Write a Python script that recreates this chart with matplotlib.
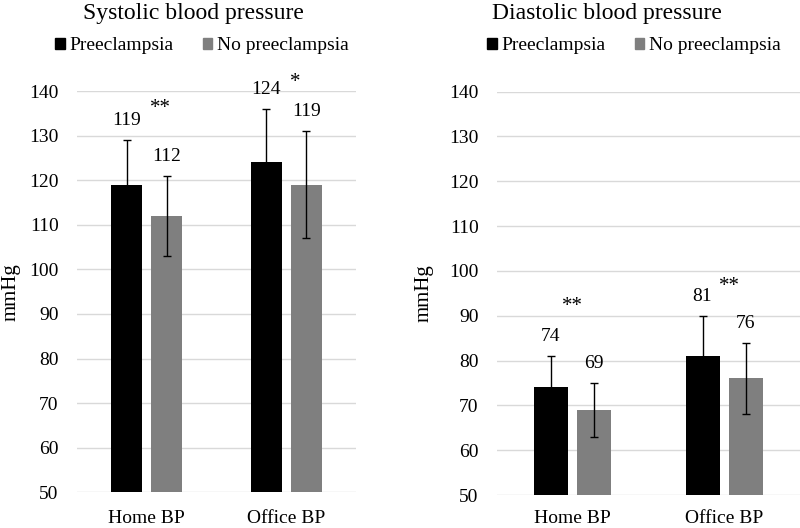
import matplotlib
matplotlib.use("Agg")
import matplotlib.pyplot as plt
from matplotlib.patches import Patch
import numpy as np

plt.rcParams["font.family"] = ["Liberation Serif", "DejaVu Serif"]

categories = ["Home BP", "Office BP"]
groups = ["Preeclampsia", "No preeclampsia"]

sys_pre = [119, 124]
sys_pre_sd = [10, 12]
sys_no = [112, 119]
sys_no_sd = [9, 12]

dia_pre = [74, 81]
dia_pre_sd = [7, 9]
dia_no = [69, 76]
dia_no_sd = [6, 8]

sys_sig = ["**", "*"]
dia_sig = ["**", "**"]

BLACK = "#000000"
GRAY = "#7f7f7f"
GRID = "#d9d9d9"


def draw_panel(ax, pre, pre_sd, no, no_sd, sig, sig_pos, xpad):
    x = np.arange(len(categories))
    w = 0.224
    gap = 0.062
    xp = x - (w + gap) / 2
    xn = x + (w + gap) / 2
    ax.bar(xp, pre, w, color=BLACK, zorder=2)
    ax.bar(xn, no, w, color=GRAY, zorder=2)
    ekw = dict(fmt="none", ecolor="black", elinewidth=1, capsize=2.6, capthick=1, zorder=3)
    ax.errorbar(xp, pre, yerr=pre_sd, **ekw)
    ax.errorbar(xn, no, yerr=no_sd, **ekw)
    for xs, vals, sds in ((xp, pre, pre_sd), (xn, no, no_sd)):
        for xi, v, s in zip(xs, vals, sds):
            ax.annotate(str(v), (xi, v + s), xytext=(0, 14), textcoords="offset points",
                        ha="center", va="center", fontsize=14, annotation_clip=False)
    for (sx, sy), s in zip(sig_pos, sig):
        ax.text(sx, sy, s, ha="center", va="center", fontsize=15, clip_on=False)
    ax.set_ylim(50, 140)
    ax.set_xlim(-0.5, 1.5)
    ax.set_yticks(range(50, 141, 10))
    ax.set_xticks(x)
    ax.set_xticklabels(categories)
    ax.yaxis.grid(True, color=GRID, linewidth=1, zorder=0)
    ax.set_axisbelow(True)
    for sp in ax.spines.values():
        sp.set_visible(False)
    ax.tick_params(axis="both", length=0, labelsize=14)
    ax.tick_params(axis="y", pad=13)
    ax.tick_params(axis="x", pad=xpad)
    ax.set_ylabel("mmHg", fontsize=15)


fig = plt.figure(figsize=(8, 5.28), dpi=100)
ax1 = fig.add_axes([0.096, 0.0676, 0.349, 0.760])
ax2 = fig.add_axes([0.621, 0.0625, 0.379, 0.764])

draw_panel(ax1, sys_pre, sys_pre_sd, sys_no, sys_no_sd, sys_sig, [(0.097, 136), (1.065, 142)], 13)
draw_panel(ax2, dia_pre, dia_pre_sd, dia_no, dia_no_sd, dia_sig, [(0.0, 92), (1.036, 96.5)], 10.5)

ax1.yaxis.set_label_coords(-0.20, 0.5)
ax2.yaxis.set_label_coords(-0.208, 0.5)

fig.text(193 / 800, 1 - 14 / 528, "Systolic blood pressure", ha="center", va="center", fontsize=17)
fig.text(607 / 800, 1 - 14 / 528, "Diastolic blood pressure", ha="center", va="center", fontsize=17)

handles = [Patch(color=BLACK), Patch(color=GRAY)]
for cx in (202 / 800, 634 / 800):
    fig.legend(handles, groups, loc="center", bbox_to_anchor=(cx, 1 - 46 / 528), ncol=2,
               frameon=False, fontsize=14, handlelength=0.5, handleheight=0.5,
               handletextpad=0.25, columnspacing=1.5, borderaxespad=0, borderpad=0)

fig.savefig("out.png", dpi=100)
